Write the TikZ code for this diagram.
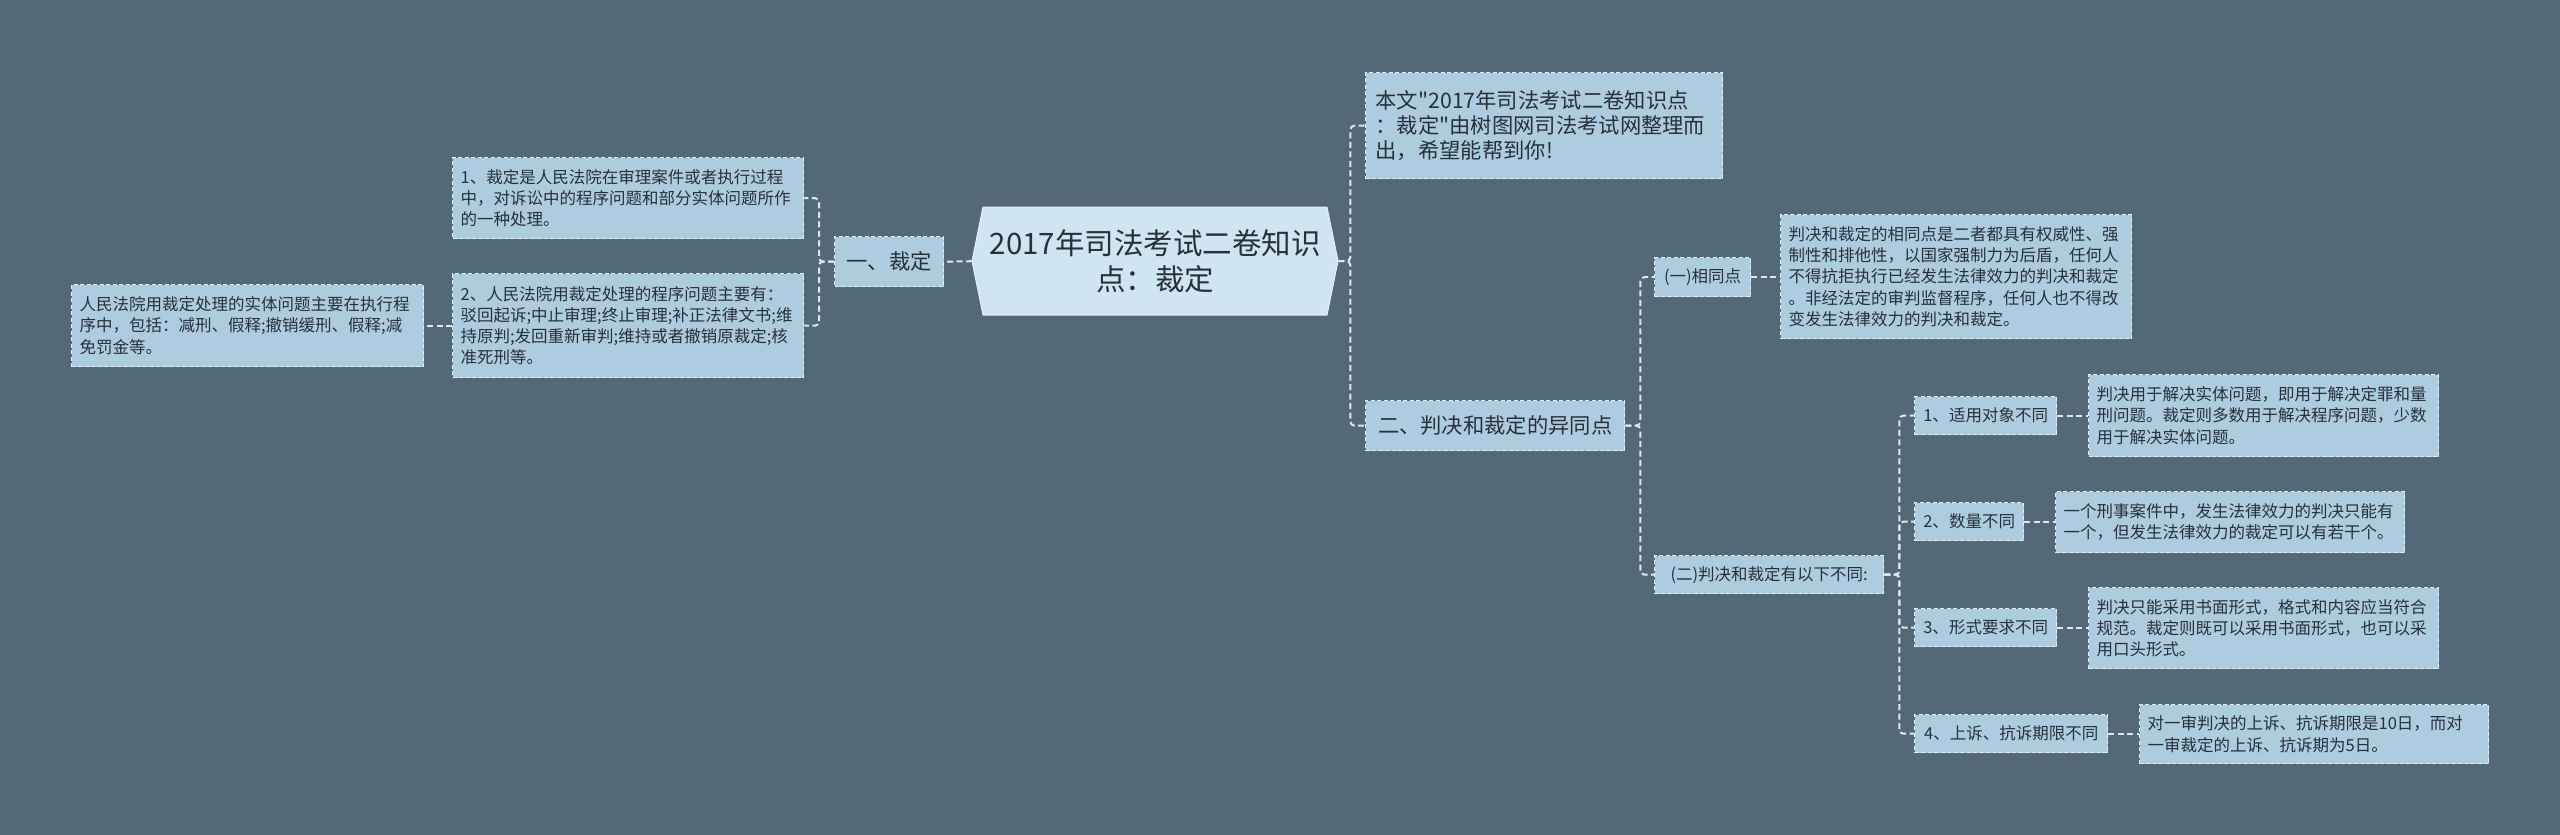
\documentclass[tikz,border=0pt]{standalone}
\usepackage{fontspec}
\newfontfamily\cjk{Noto Sans CJK SC}
\definecolor{bgc}{RGB}{84,105,120}
\definecolor{boxfill}{RGB}{174,204,224}
\definecolor{boxline}{RGB}{228,238,244}
\definecolor{txt}{RGB}{40,48,56}
\definecolor{cfill}{RGB}{207,229,242}
\definecolor{conncol}{RGB}{220,232,240}
\tikzset{
 base/.style={draw=boxline, fill=boxfill, dash pattern=on 4pt off 2.5pt, line width=1.3pt, anchor=north west, text=txt},
 leaf/.style={base, inner xsep=8pt, inner ysep=0pt, align=left, font=\cjk\fontsize{16.5}{21.3}\selectfont},
 bigleaf/.style={base, inner xsep=10pt, inner ysep=0pt, align=left, font=\cjk\fontsize{21.3}{25}\selectfont},
 lab/.style={base, inner sep=0pt, align=center, font=\cjk\fontsize{16.5}{20}\selectfont},
 biglab/.style={base, inner sep=0pt, align=center, font=\cjk\fontsize{21.3}{25}\selectfont},
 conn/.style={draw=conncol, line width=2pt, dash pattern=on 6pt off 3.5pt, rounded corners=4pt},
}
\begin{document}
\begin{tikzpicture}[x=1pt,y=-1pt]
\useasboundingbox (0,0) rectangle (2560,835);
\fill[bgc] (0,0) rectangle (2560,835);
% central hexagon
\filldraw[fill=cfill, draw=cfill!60!white, line width=1pt] (983,207) -- (1327,207) -- (1338,261) -- (1327,315) -- (983,315) -- (972,261) -- cycle;
\node[font=\cjk\fontsize{29.5}{36}\selectfont, text=txt, align=center, minimum width=366pt, minimum height=108pt, inner sep=0pt, anchor=north west] (c) at (972,207) {2017年司法考试二卷知识\\点：裁定};

% left branch
\node[biglab, minimum width=109pt, minimum height=50pt] (n1) at (834,236) {一、裁定};
\node[leaf, text width=335pt, minimum height=81pt] (a) at (452,157) {1、裁定是人民法院在审理案件或者执行过程\\中，对诉讼中的程序问题和部分实体问题所作\\的一种处理。};
\node[leaf, text width=335pt, minimum height=104pt] (b) at (452,273) {2、人民法院用裁定处理的程序问题主要有：\\驳回起诉;中止审理;终止审理;补正法律文书;维\\持原判;发回重新审判;维持或者撤销原裁定;核\\准死刑等。};
\node[leaf, text width=336pt, minimum height=82pt] (bc) at (71,284) {人民法院用裁定处理的实体问题主要在执行程\\序中，包括：减刑、假释;撤销缓刑、假释;减\\免罚金等。};

% right branch
\node[bigleaf, text width=337pt, minimum height=106pt] (r0) at (1365,72) {本文"2017年司法考试二卷知识点\\：裁定"由树图网司法考试网整理而\\出，希望能帮到你!};
\node[biglab, minimum width=259pt, minimum height=50pt] (r1) at (1365,400) {二、判决和裁定的异同点};
\node[lab, minimum width=96pt, minimum height=39pt] (r1a) at (1654,257) {(一)相同点};
\node[leaf, text width=335pt, minimum height=124pt] (s) at (1780,214) {判决和裁定的相同点是二者都具有权威性、强\\制性和排他性，以国家强制力为后盾，任何人\\不得抗拒执行已经发生法律效力的判决和裁定\\。非经法定的审判监督程序，任何人也不得改\\变发生法律效力的判决和裁定。};
\node[lab, minimum width=229pt, minimum height=38pt] (r1b) at (1654,555) {(二)判决和裁定有以下不同:};

\node[lab, minimum width=142pt, minimum height=38pt] (i1) at (1914,396) {1、适用对象不同};
\node[lab, minimum width=109pt, minimum height=38pt] (i2) at (1914,502) {2、数量不同};
\node[lab, minimum width=142pt, minimum height=38pt] (i3) at (1914,608) {3、形式要求不同};
\node[lab, minimum width=193pt, minimum height=38pt] (i4) at (1914,714) {4、上诉、抗诉期限不同};

\node[leaf, text width=334pt, minimum height=82pt] (t1) at (2088,374) {判决用于解决实体问题，即用于解决定罪和量\\刑问题。裁定则多数用于解决程序问题，少数\\用于解决实体问题。};
\node[leaf, text width=333pt, minimum height=61pt] (t2) at (2055,491) {一个刑事案件中，发生法律效力的判决只能有\\一个，但发生法律效力的裁定可以有若干个。};
\node[leaf, text width=334pt, minimum height=81pt] (t3) at (2088,587) {判决只能采用书面形式，格式和内容应当符合\\规范。裁定则既可以采用书面形式，也可以采\\用口头形式。};
\node[leaf, text width=333pt, minimum height=59pt] (t4) at (2139,704) {对一审判决的上诉、抗诉期限是10日，而对\\一审裁定的上诉、抗诉期为5日。};

% connectors
\draw[conn] (c.west) -- (n1.east);
\draw[conn] (n1.west) -- ++(-15,0) |- (a.east);
\draw[conn] (n1.west) -- ++(-15,0) |- (b.east);
\draw[conn] (b.west) -- (bc.east |- b.west);
\draw[conn] (c.east) -- ++(12,0) |- (r0.west);
\draw[conn] (c.east) -- ++(12,0) |- (r1.west);
\draw[conn] (r1.east) -- ++(15,0) |- (r1a.west);
\draw[conn] (r1.east) -- ++(15,0) |- (r1b.west);
\draw[conn] (r1a.east) -- (s.west |- r1a.east);
\draw[conn] (r1b.east) -- ++(15,0) |- (i1.west);
\draw[conn] (r1b.east) -- ++(15,0) |- (i2.west);
\draw[conn] (r1b.east) -- ++(15,0) |- (i3.west);
\draw[conn] (r1b.east) -- ++(15,0) |- (i4.west);
\draw[conn] (i1.east) -- (t1.west |- i1.east);
\draw[conn] (i2.east) -- (t2.west |- i2.east);
\draw[conn] (i3.east) -- (t3.west |- i3.east);
\draw[conn] (i4.east) -- (t4.west |- i4.east);
\end{tikzpicture}
\end{document}
